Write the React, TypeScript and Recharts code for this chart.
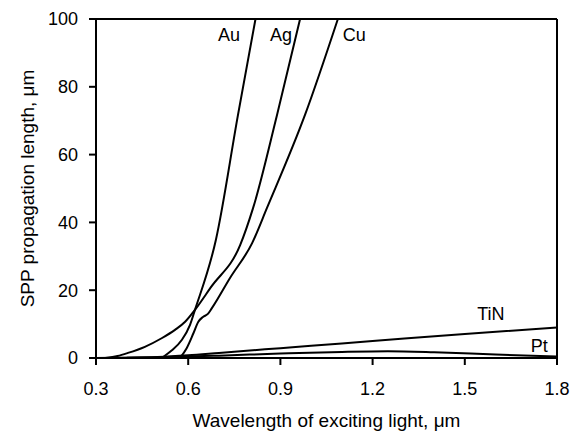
import React from 'react';
import { LineChart, Line, XAxis, YAxis, ReferenceLine, ReferenceDot, Label } from 'recharts';

const FONT = '"Liberation Sans", Arial, Helvetica, sans-serif';

// Wavelength (µm) and SPP propagation length (µm) per metal
const auWavelength = [0.514, 0.546, 0.579, 0.606, 0.622, 0.69, 0.762, 0.819];
const auLength = [0, 2.2, 5.3, 9.8, 14.2, 34.8, 71.7, 100];

const agWavelength = [0.33, 0.37, 0.404, 0.459, 0.515, 0.557, 0.59, 0.622, 0.674, 0.769, 0.811, 0.889, 0.964];
const agLength = [0, 0.6, 1.5, 3.3, 5.9, 8.3, 10.7, 14.2, 20.9, 33.3, 44.2, 71.7, 100];

const cuWavelength = [0.573, 0.595, 0.617, 0.633, 0.648, 0.664, 0.677, 0.736, 0.808, 0.856, 0.98, 1.087];
const cuLength = [0, 2.9, 7.3, 10.7, 12.1, 13.0, 14.7, 23.6, 33.9, 44.2, 71.7, 100];

const tinWavelength = [0.4, 0.5, 0.6, 0.7, 0.8, 0.9, 1.0, 1.2, 1.5, 1.8];
const tinLength = [0.1, 0.3, 0.8, 1.5, 2.2, 2.9, 3.6, 5.0, 7.1, 9.0];

const ptWavelength = [0.3, 0.5, 0.7, 0.9, 1.1, 1.25, 1.4, 1.6, 1.8];
const ptLength = [0, 0.2, 0.7, 1.3, 1.8, 2.0, 1.7, 1.0, 0.4];

const xTicks = [0.3, 0.6, 0.9, 1.2, 1.5, 1.8];
const yTicks = [0, 20, 40, 60, 80, 100];

const labelNames = ['Au', 'Ag', 'Cu', 'TiN', 'Pt'];
const labelWavelength = [0.733, 0.902, 1.14, 1.585, 1.742];
const labelLength = [95.3, 95.3, 95.3, 13.0, 3.8];

const toPoints = (xs: number[], ys: number[]) => xs.map((x, i) => ({ x, y: ys[i] }));

const series = [
  { name: 'Au', data: toPoints(auWavelength, auLength) },
  { name: 'Ag', data: toPoints(agWavelength, agLength) },
  { name: 'Cu', data: toPoints(cuWavelength, cuLength) },
  { name: 'TiN', data: toPoints(tinWavelength, tinLength) },
  { name: 'Pt', data: toPoints(ptWavelength, ptLength) },
];

const YTitle = (props: any) => {
  const vb = props.viewBox || { x: 0, y: 0, width: 0, height: 0 };
  const cx = vb.x + 27;
  const cy = vb.y + vb.height / 2;
  return (
    <text
      x={cx}
      y={cy}
      transform={`rotate(-90, ${cx}, ${cy})`}
      textAnchor="middle"
      dominantBaseline="central"
      fill="#000"
      fontSize={19}
      fontFamily={FONT}
    >
      SPP propagation length, μm
    </text>
  );
};

const XTitle = (props: any) => {
  const vb = props.viewBox || { x: 0, y: 0, width: 0, height: 0 };
  return (
    <text
      x={vb.x + vb.width / 2}
      y={vb.y + 68.5}
      textAnchor="middle"
      fill="#000"
      fontSize={19}
      fontFamily={FONT}
    >
      Wavelength of exciting light, μm
    </text>
  );
};

export default function App() {
  return (
    <div style={{ position: 'absolute', left: 0, top: 0, background: '#fff' }}>
      <LineChart width={571} height={437} margin={{ top: 19, right: 14, bottom: 0, left: 0 }}>
        <XAxis
          dataKey="x"
          type="number"
          domain={[0.3, 1.8]}
          ticks={xTicks}
          allowDuplicatedCategory={false}
          height={79}
          tickSize={7}
          tickMargin={17}
          axisLine={{ stroke: '#000', strokeWidth: 2 }}
          tickLine={{ stroke: '#000', strokeWidth: 2 }}
          tick={{ fill: '#000', fontSize: 18, fontFamily: FONT }}
        >
          <Label content={<XTitle />} />
        </XAxis>
        <YAxis
          type="number"
          domain={[0, 100]}
          ticks={yTicks}
          width={96}
          tickSize={7}
          tickMargin={11}
          axisLine={{ stroke: '#000', strokeWidth: 2 }}
          tickLine={{ stroke: '#000', strokeWidth: 2 }}
          tick={{ fill: '#000', fontSize: 18, fontFamily: FONT }}
        >
          <Label content={<YTitle />} />
        </YAxis>
        <ReferenceLine y={100} stroke="#000" strokeWidth={2} />
        <ReferenceLine x={1.8} stroke="#000" strokeWidth={2} />
        {series.map((s) => (
          <Line
            key={s.name}
            data={s.data}
            dataKey="y"
            type="monotone"
            stroke="#000"
            strokeWidth={2}
            dot={false}
            activeDot={false}
            isAnimationActive={false}
          />
        ))}
        {labelNames.map((n, i) => (
          <ReferenceDot
            key={n}
            x={labelWavelength[i]}
            y={labelLength[i]}
            r={0}
            fill="none"
            stroke="none"
            label={{ value: n, position: 'center', fill: '#000', fontSize: 18, fontFamily: FONT }}
          />
        ))}
      </LineChart>
    </div>
  );
}
